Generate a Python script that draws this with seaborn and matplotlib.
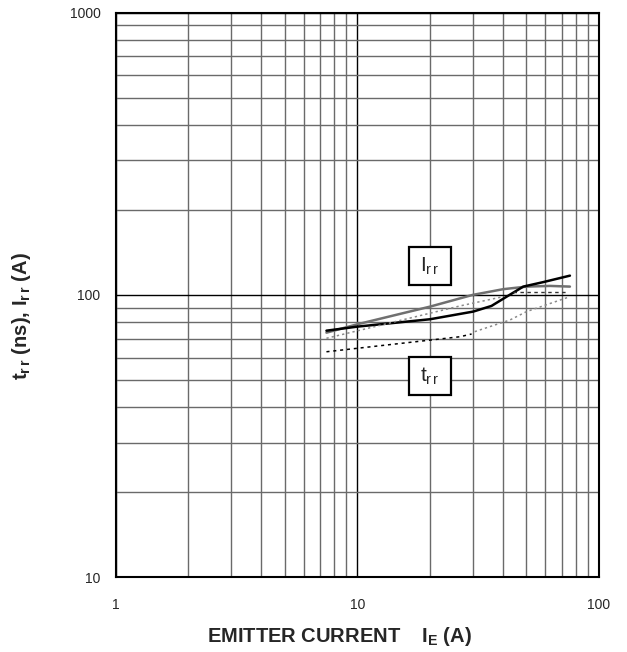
import numpy as np
import pandas as pd
import matplotlib
matplotlib.use("Agg")
import matplotlib.pyplot as plt
from matplotlib.patches import Rectangle
import seaborn as sns

# ---- data ----
black_x = [7.45, 10, 20, 30.2, 35.9, 41.5, 48.6, 58.8, 75.8]
black_y = [74.7, 77.2, 82, 87.3, 91.4, 98.6, 107, 111, 117]

gray_x = [7.45, 10, 20, 30, 40.2, 50.2, 62.7, 75.8]
gray_y = [73.5, 78.7, 90.9, 100, 104.8, 107, 107.6, 107]

updot_x = [7.45, 10, 26.6, 40.2]
updot_y = [70.2, 74.6, 91.4, 98.6]
updash_x = [44, 73.5]
updash_y = [102.2, 102.2]

lowdash_x = [7.45, 26.6, 29.7]
lowdash_y = [62.9, 71.1, 72.7]
lowdot_x = [30.6, 42.8, 50.2, 74.6]
lowdot_y = [74.1, 81.5, 87.3, 98.1]

label_texts = [r"$\mathrm{I_{r\,r}}$", r"$\mathrm{t_{r\,r}}$"]
label_x = [20, 20]
label_y = [126.3, 51.6]

x_ticks = [1, 10, 100]
x_ticklabels = ["1", "10", "100"]
y_ticks = [10, 100, 1000]
y_ticklabels = ["10", "100", "1000"]

sns.set_style("white")
plt.rcParams["font.family"] = ["Liberation Sans", "DejaVu Sans"]
plt.rcParams["mathtext.fontset"] = "custom"
plt.rcParams["mathtext.rm"] = "Liberation Sans"
plt.rcParams["mathtext.bf"] = "Liberation Sans:bold"
plt.rcParams["mathtext.it"] = "Liberation Sans:italic"

W, H = 627, 652
fig = plt.figure(figsize=(W / 100, H / 100), dpi=100)
ax = fig.add_axes([115.7 / W, 1 - 577.3 / H, 483.3 / W, 564.8 / H])
ax.set_xscale("log")
ax.set_yscale("log")
ax.set_xlim(1, 100)
ax.set_ylim(10, 1000)

# grid
ax.set_axisbelow(True)
ax.grid(which="minor", color="#6a6a6a", lw=1.0)
ax.grid(which="major", color="black", lw=1.0)

def seg(x, y, **kw):
    df = pd.DataFrame({"x": x, "y": y})
    sns.lineplot(data=df, x="x", y="y", ax=ax, estimator=None, sort=False, **kw)

seg(gray_x, gray_y, color="#707070", lw=1.8)
seg(black_x, black_y, color="black", lw=1.8)
seg(updot_x, updot_y, color="#8a8a8a", lw=1.1, linestyle=(0, (1.5, 2)))
seg(updash_x, updash_y, color="#333333", lw=1.0, linestyle=(0, (2.5, 2.5)))
seg(lowdash_x, lowdash_y, color="black", lw=1.1, linestyle=(0, (2, 2.5)))
seg(lowdot_x, lowdot_y, color="#8a8a8a", lw=1.1, linestyle=(0, (1.5, 2)))

# label boxes (fixed pixel size around data-positioned centers)
bw, bh = 42.0, 38.0
for t, lx, ly in zip(label_texts, label_x, label_y):
    cx, cy = ax.transData.transform((lx, ly))
    ax.add_patch(Rectangle((cx - bw / 2, cy - bh / 2), bw, bh, transform=None,
                           fc="white", ec="black", lw=1.6, zorder=4))
    ax.text(lx, ly, t, ha="center", va="center", fontsize=15, zorder=5)

ax.set_xticks(x_ticks)
ax.set_xticklabels(x_ticklabels)
ax.set_yticks(y_ticks)
ax.set_yticklabels(y_ticklabels)
ax.tick_params(which="both", length=0)
ax.tick_params(axis="x", pad=15, labelsize=10)
ax.tick_params(axis="y", pad=11, labelsize=10)

for s in ax.spines.values():
    s.set_color("black")
    s.set_linewidth(1.5)

ax.set_xlabel(r"EMITTER CURRENT    $\mathbf{I_E}$ (A)", fontsize=14.5, fontweight="bold")
ax.set_ylabel(r"$\mathbf{t_{r\,r}}$ (ns), $\mathbf{I_{r\,r}}$ (A)", fontsize=14.5, fontweight="bold")
ax.xaxis.set_label_coords(0.464, -0.085)
ax.yaxis.set_label_coords(-0.171, 0.4626)

fig.savefig("out.png", dpi=100)
